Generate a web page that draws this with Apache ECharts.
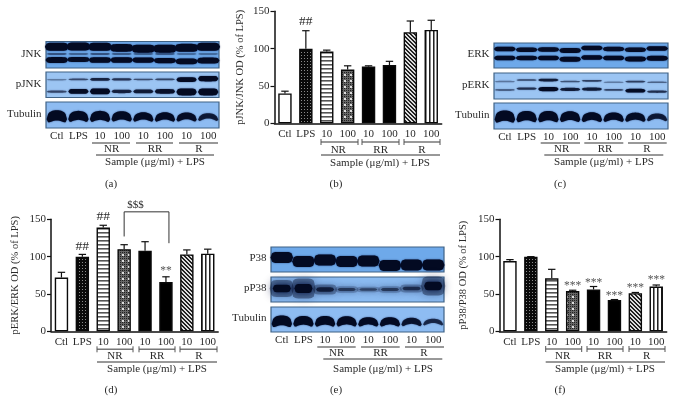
<!DOCTYPE html>
<html><head><meta charset="utf-8">
<style>html,body{margin:0;padding:0;background:#fff}#c{width:675px;height:412px}#c canvas{filter:blur(.35px)}</style>
<script src="https://cdn.jsdelivr.net/npm/echarts@6/dist/echarts.min.js"></script>
</head><body><div id="c"></div>
<script>
const categories = ['Ctl','LPS','10','100','10','100','10','100'];
const groups = ['NR','RR','R'];

// bar values and error-bar tops (% of LPS)
const jnkMeans = [40,100,96,72,76,78,122,125];
const jnkTops  = [43,124,98,77,77,83,137,138];
const erkMeans = [72,100,139,110,108,66,103,104];
const erkTops  = [79,103,142,116,120,73,109,110];
const p38Means = [94,100,71,54,56,42,51,60];
const p38Tops  = [96,100,83,55,60,42.5,52,62];

// significance marks: [category, value level, text]
const jnkMarks = [[1,136,'##']];
const erkMarks = [[1,114,'##'],[2,154,'##'],[5,84,'**'],[3.54,169,'$$$']];
const p38Marks = [[3,63,'***'],[4,68,'***'],[5,50,'***'],[6,61,'***'],[7,71,'***']];

// blot band intensities per lane, and migration position per lane (0 top, 1 bottom)
const jnkTopI = [1,1,1,.95,1,1,1,1];      const jnkTopY = [.2,.19,.2,.24,.27,.27,.24,.2];
const jnkMidI = [.3,.2,.3,.25,.2,.25,.15,.15]; const jnkMidY = [.47,.47,.47,.47,.47,.47,.47,.47];
const jnkLowI = [.85,.7,.8,.8,.75,.75,.8,.85]; const jnkLowY = [.7,.68,.7,.7,.7,.72,.75,.72];
const pjnkUpI = [.08,.3,.5,.4,.28,.32,.85,1];  const pjnkUpY = [.3,.29,.29,.29,.29,.29,.3,.26];
const pjnkLoI = [.3,.7,.85,.5,.55,.65,1,1];    const pjnkLoY = [.77,.76,.76,.76,.76,.76,.78,.78];
const tubAI = [1,.88,.88,.82,.72,.72,.68,.55];
const tubAY = [.58,.58,.58,.58,.6,.6,.6,.6];
const erkTopI = [.72,.7,.7,.75,.72,.68,.7,.72]; const erkTopY = [.24,.27,.26,.3,.2,.24,.27,.22];
const erkLowI = [.72,.7,.72,.75,.72,.72,.75,.75]; const erkLowY = [.6,.6,.6,.65,.58,.6,.64,.61];
const perkUpI = [.1,.32,.55,.25,.35,.08,.35,.18]; const perkUpY = [.33,.27,.27,.33,.3,.36,.33,.36];
const perkLoI = [.28,.42,.75,.55,.55,.32,.7,.42]; const perkLoY = [.65,.6,.62,.63,.62,.65,.68,.72];
const tubCI = [1,.9,.9,.85,.75,.72,.7,.55];
const tubCY = [.55,.55,.55,.55,.57,.57,.57,.57];
const p38I = [1,1,1,1,1,1,1,1];
const p38Y = [.42,.58,.52,.58,.56,.74,.72,.72];
const pp38I = [.85,1,.5,.33,.28,.33,.4,.95];
const pp38Y = [.46,.46,.5,.5,.5,.5,.46,.36];
const tubEI = [.95,.85,.85,.8,.72,.72,.62,.45];
const tubEY = [.6,.6,.6,.6,.62,.62,.62,.62];

const SERIF = '"Liberation Serif","DejaVu Serif",serif';
const INK = '#2a2a2a';

function mk(w,h,draw){const c=document.createElement('canvas');c.width=w;c.height=h;const g=c.getContext('2d');draw(g);return {image:c,repeat:'repeat'};}
const patterns = [
  '#ffffff',
  mk(3,3,g=>{g.fillStyle='#0a0a0a';g.fillRect(0,0,3,3);g.fillStyle='#8a8a8a';g.fillRect(1,1,1,1);}),
  mk(4,4,g=>{g.fillStyle='#fff';g.fillRect(0,0,4,4);g.fillStyle='#555';g.fillRect(0,0,4,1);g.fillStyle='#999';g.fillRect(0,1,4,1);}),
  mk(6,6,g=>{g.fillStyle='#666';g.fillRect(0,0,6,6);g.fillStyle='#222';for(let i=0;i<6;i+=2)for(let j=0;j<6;j+=2)g.fillRect(i,j,1,1);g.fillStyle='#ddd';g.fillRect(2,2,2,2);}),
  '#000000','#000000',
  mk(4,4,g=>{g.fillStyle='#ddd';g.fillRect(0,0,4,4);g.fillStyle='#222';for(let i=0;i<4;i++){g.fillRect(i,i,1,1);g.fillRect((i+1)%4,i,1,1);}}),
  mk(4,4,g=>{g.fillStyle='#fff';g.fillRect(0,0,4,4);g.fillStyle='#222';g.fillRect(1,0,1,4);g.fillStyle='#888';g.fillRect(2,0,1,4);})
];

const grid=[],xAxis=[],yAxis=[],series=[],graphic=[];

function text(x,y,t,opt){graphic.push(Object.assign({type:'text',x,y,silent:true,style:Object.assign({text:t,font:'11px '+SERIF,fill:INK,align:'center',verticalAlign:'middle'},opt||{})}));}
function line(x1,x2,y,c,w){graphic.push({type:'line',silent:true,shape:{x1,y1:y,x2,y2:y},style:{stroke:c,lineWidth:w}});}

function decor(d){
  d.brackets.forEach((b,i)=>{
    line(b[0],b[1],d.by,'#777',1.4);
    if(d.caps){[b[0],b[1]].forEach(x=>graphic.push({type:'line',silent:true,shape:{x1:x,y1:d.by-3,x2:x,y2:d.by+3},style:{stroke:'#555',lineWidth:1}}));}
    text(d.gx[i],d.gy,groups[i]);
  });
  line(d.lx[0],d.lx[1],d.ly,'#333',1);
  text(d.sx,d.sy,'Sample (μg/ml) + LPS');
  text(d.cx,d.cy,d.cap);
}

function barPanel(p){
  const i=grid.length;
  grid.push({left:p.left,top:p.top,width:167.2,height:112,containLabel:false});
  xAxis.push({gridIndex:i,type:'category',data:categories,
    axisLine:{lineStyle:{color:'#111',width:1.5}},
    axisTick:{alignWithLabel:true,length:4,lineStyle:{color:'#111',width:1.2}},
    axisLabel:{color:INK,fontFamily:SERIF,fontSize:11,margin:5,interval:0}});
  yAxis.push({gridIndex:i,type:'value',min:0,max:150,interval:50,splitLine:{show:false},
    name:p.title,nameLocation:'middle',nameRotate:90,nameGap:p.gap,
    nameTextStyle:{color:INK,fontFamily:SERIF,fontSize:10.5},
    axisLine:{show:true,lineStyle:{color:'#111',width:1.5}},
    axisTick:{show:true,length:4,lineStyle:{color:'#111',width:1.2}},
    axisLabel:{color:INK,fontFamily:SERIF,fontSize:11,margin:5}});
  series.push({type:'custom',xAxisIndex:i,yAxisIndex:i,clip:false,silent:true,z:1,
    data:p.means.map((m,k)=>[k,m,p.tops[k]]),
    renderItem:(ps,api)=>{
      const a=api.coord([api.value(0),api.value(1)]),b=api.coord([api.value(0),api.value(2)]);
      const st={stroke:'#111',lineWidth:1.2};
      return {type:'group',children:[
        {type:'line',shape:{x1:a[0],y1:a[1],x2:b[0],y2:b[1]},style:st},
        {type:'line',shape:{x1:b[0]-3.7,y1:b[1],x2:b[0]+3.7,y2:b[1]},style:st}]};
    }});
  series.push({type:'bar',xAxisIndex:i,yAxisIndex:i,barWidth:13.4,silent:true,z:2,
    data:p.means.map((m,k)=>({value:m,itemStyle:{color:patterns[k],borderColor:'#0a0a0a',borderWidth:1.4}}))});
  series.push({type:'custom',xAxisIndex:i,yAxisIndex:i,clip:false,silent:true,z:3,
    data:p.marks.map(m=>[Math.floor(m[0]),m[1],m[0]-Math.floor(m[0])]),
    renderItem:(ps,api)=>{
      const c=api.coord([api.value(0),api.value(1)]);
      const t=p.marks[ps.dataIndex][2];const star=t==='***'||t==='**';const dollar=t==='$$$';
      return {type:'text',style:{text:t,x:c[0]+api.value(2)*20.9,y:c[1]+(star?2:0),align:'center',verticalAlign:'middle',
        font:(star?'11.5px ':dollar?'11px ':'13.5px ')+SERIF,fill:star?'#555':INK}};
    }});
  if(p.bracket){
    series.push({type:'custom',xAxisIndex:i,yAxisIndex:i,clip:false,silent:true,z:3,
      data:[p.bracket],
      renderItem:(ps,api)=>{
        const a=api.coord([api.value(0),api.value(1)]),t=api.coord([api.value(0),api.value(2)]),b=api.coord([api.value(3),api.value(4)]);
        return {type:'polyline',shape:{points:[a,t,[b[0]+3,t[1]],[b[0]+3,b[1]]]},style:{stroke:'#333',lineWidth:1,fill:'none'}};
      }});
  }
  decor(p.decor);
}

function bandShape(cx,cy,half,t,arch){
  const top=[],bot=[];
  for(let n=0;n<=14;n++){
    const u=-1+n/7, env=Math.pow(Math.max(0,1-Math.pow(Math.abs(u),6)),.5);
    const mid=cy+arch*(u*u-.4);
    top.push([cx+half*u,mid-t/2*env]);
    bot.unshift([cx+half*u,mid+t/2*env-arch*(1-u*u)*.2]);
  }
  return top.concat(bot);
}

function blot(p){
  const i=grid.length;
  grid.push({show:true,left:p.left,top:p.top,width:p.w,height:p.h,backgroundColor:p.bg,borderColor:'#3f6285',borderWidth:1.2});
  xAxis.push({gridIndex:i,type:'category',data:categories,axisLine:{show:false},axisTick:{show:false},
    axisLabel:p.labels?{show:true,color:INK,fontFamily:SERIF,fontSize:11,margin:3,interval:0}:{show:false}});
  yAxis.push({gridIndex:i,type:'value',min:0,max:1,inverse:true,show:false});
  const rows=[];
  p.bands.forEach((b,bi)=>b.i.forEach((v,k)=>rows.push([k,b.y[k],v,bi])));
  series.push({type:'custom',xAxisIndex:i,yAxisIndex:i,silent:true,z:2,data:rows,
    renderItem:(ps,api)=>{
      const c=api.coord([api.value(0),api.value(1)]),v=api.value(2),b=p.bands[api.value(3)];
      const half=api.size([1,0])[0]*(b.len||.47);
      return {type:'polygon',shape:{points:bandShape(c[0],c[1],half,Math.max(1.5,v*b.t),b.arch||0)},
        style:{fill:'#030a22',opacity:Math.min(1,.2+v*1.1)*(b.soft||1),shadowBlur:b.blur||1.5,shadowColor:'rgba(5,20,70,.8)'}};
    }});
  text(p.left-4.5,p.top+p.h/2-1,p.name,{align:'right'});
}

const BG1='#6ea9ea',BG2='#9cc5f3',BG3='#8ebcf2';

// (a)
blot({left:46,top:41.5,w:173,h:26.5,bg:BG1,name:'JNK',bands:[{i:jnkTopI,y:jnkTopY,t:8,len:.55},{i:jnkMidI,y:jnkMidY,t:3},{i:jnkLowI,y:jnkLowY,t:7,len:.52}]});
blot({left:46,top:72,w:173,h:25.5,bg:BG2,name:'pJNK',bands:[{i:pjnkUpI,y:pjnkUpY,t:5.5},{i:pjnkLoI,y:pjnkLoY,t:7}]});
blot({left:46,top:102,w:173,h:26,bg:BG3,name:'Tubulin',labels:true,bands:[{i:tubAI,y:tubAY,t:11,arch:3.5}]});
decor({brackets:[[92,130],[136,173],[179,218]],by:143,gx:[111.7,155,199],gy:149.5,lx:[96,214],ly:155,sx:155,sy:162,cx:111,cy:184,cap:'(a)'});

// (b)
barPanel({left:274.5,top:11.3,title:'pJNK/JNK OD (% of LPS)',gap:29,means:jnkMeans,tops:jnkTops,marks:jnkMarks,
  decor:{caps:true,brackets:[[321,358],[362,399],[404,440]],by:142,gx:[338.3,380.7,422],gy:150,lx:[321,440],ly:155,sx:380,sy:163,cx:336,cy:184,cap:'(b)'}});

// (c)
blot({left:494,top:43,w:174,h:25,bg:BG1,name:'ERK',bands:[{i:erkTopI,y:erkTopY,t:6.5,len:.5},{i:erkLowI,y:erkLowY,t:6.5,len:.5}]});
blot({left:494,top:73,w:174,h:26,bg:BG2,name:'pERK',bands:[{i:perkUpI,y:perkUpY,t:5},{i:perkLoI,y:perkLoY,t:5.5}]});
blot({left:494,top:103,w:174,h:26,bg:BG3,name:'Tubulin',labels:true,bands:[{i:tubCI,y:tubCY,t:11,arch:3.5}]});
decor({brackets:[[540.7,580],[584.3,623.3],[628,666.7]],by:143,gx:[561.7,605,647],gy:149.5,lx:[544.3,663.3],ly:155,sx:604,sy:162,cx:560,cy:184,cap:'(c)'});

// (d)
barPanel({left:51,top:219.3,title:'pERK/ERK OD (% of LPS)',gap:30,means:erkMeans,tops:erkTops,marks:erkMarks,bracket:[3,127,160,5,118],
  decor:{caps:true,brackets:[[97,133],[139,175],[180,217]],by:349.3,gx:[115,157,199],gy:356,lx:[97,217],ly:362,sx:157,sy:369,cx:111,cy:390,cap:'(d)'}});

// (e)
blot({left:271,top:247,w:173,h:25,bg:BG1,name:'P38',bands:[{i:p38I,y:p38Y,t:11,len:.52}]});
blot({left:271,top:277,w:173,h:25,bg:'#8cbcf2',name:'pP38',bands:[{i:pp38I,y:pp38Y,t:20,blur:8,len:.56,soft:.4},{i:pp38I,y:pp38Y,t:9,blur:5,len:.42}]});
blot({left:271,top:307,w:173,h:25,bg:BG3,name:'Tubulin',labels:true,bands:[{i:tubEI,y:tubEY,t:11,arch:3.5}]});
decor({brackets:[[317.3,355.7],[361,399.7],[405,444]],by:347,gx:[336.7,380.5,424],gy:353.5,lx:[323.3,442.3],ly:359,sx:383,sy:369,cx:336,cy:390,cap:'(e)'});

// (f)
barPanel({left:499.5,top:219.3,title:'pP38/P38 OD (% of LPS)',gap:31,means:p38Means,tops:p38Tops,marks:p38Marks,
  decor:{caps:true,brackets:[[545.7,581.7],[587,623],[629,665]],by:349,gx:[562.7,605,646.7],gy:356,lx:[545.7,665],ly:362,sx:605,sy:369,cx:560,cy:390,cap:'(f)'}});

const chart=echarts.init(document.getElementById('c'),null,{renderer:'canvas',width:675,height:412});
chart.setOption({animation:false,backgroundColor:'#fff',grid,xAxis,yAxis,series,graphic});
</script></body></html>
